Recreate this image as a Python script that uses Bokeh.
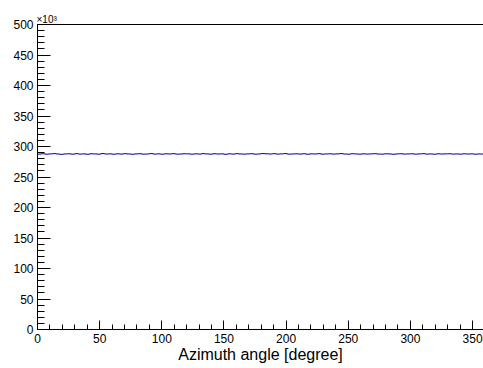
from bokeh.plotting import figure
from bokeh.models import FixedTicker, LinearAxis, Range1d, Title
from bokeh.embed import file_html
from bokeh.resources import INLINE

# Histogram: azimuth angle bins (3 degree wide), counts in units of 10^3
bin_width = 3.0
counts_k = [
    287.6, 288.1, 287.4, 287.9, 288.3, 287.7, 287.2, 287.8, 288.0, 287.5,
    288.2, 287.6, 287.9, 287.3, 288.1, 287.8, 287.5, 288.4, 287.7, 287.9,
    287.4, 288.0, 287.6, 288.2, 287.8, 287.3, 287.9, 288.1, 287.5, 287.7,
    288.3, 287.6, 287.9, 287.4, 288.0, 287.8, 288.2, 287.5, 287.7, 288.1,
    287.9, 287.4, 288.0, 287.6, 288.3, 287.8, 287.5, 288.1, 287.7, 287.9,
    287.3, 288.0, 287.6, 288.2, 287.8, 287.5, 287.9, 288.1, 287.4, 287.8,
    288.4, 288.0, 287.7, 288.2, 287.6, 287.9, 288.3, 287.5, 287.8, 288.0,
    287.6, 288.1, 287.4, 287.9, 287.7, 288.2, 287.5, 287.8, 288.0, 287.6,
    287.9, 288.3, 287.7, 287.5, 288.1, 287.8, 287.4, 288.0, 287.6, 287.9,
    288.2, 287.7, 287.5, 288.0, 287.8, 287.3, 287.9, 288.1, 287.6, 287.8,
    288.0, 287.5, 287.9, 288.2, 287.6, 287.8, 287.4, 288.0, 287.7, 287.9,
    288.1, 287.6, 287.8, 287.5, 288.0, 287.7, 287.9, 287.4, 287.8, 287.6,
]
x_ticks = [0, 50, 100, 150, 200, 250, 300, 350]
x_minor = list(range(0, 361, 10))
y_ticks = [0, 50, 100, 150, 200, 250, 300, 350, 400, 450, 500]
y_minor = list(range(0, 501, 10))
x_title = "Azimuth angle [degree]"
y_multiplier = "\u00d710\u00b3"

edges = [i * bin_width for i in range(len(counts_k) + 1)]
step_y = counts_k + [counts_k[-1]]

FONT = "Liberation Sans"

p = figure(width=483, height=368, output_backend="svg", toolbar_location=None,
           x_range=Range1d(0, 358.8), y_range=Range1d(0, 500),
           min_border_left=37, min_border_right=0, min_border_top=24,
           min_border_bottom=39)
p.background_fill_color = "white"
p.border_fill_color = "white"
p.outline_line_color = None
p.xgrid.visible = False
p.ygrid.visible = False

p.step(edges, step_y, mode="after", line_color="#000099", line_width=1)

for ax, ticks, minor, tin, mtin in ((p.xaxis[0], x_ticks, x_minor, 9, 5),
                                    (p.yaxis[0], y_ticks, y_minor, 13, 7)):
    ax.ticker = FixedTicker(ticks=ticks, minor_ticks=minor)
    ax.axis_line_color = "black"
    ax.axis_line_width = 1
    ax.major_tick_in = tin
    ax.major_tick_out = 0
    ax.minor_tick_in = mtin
    ax.minor_tick_out = 0
    ax.major_tick_line_color = "black"
    ax.minor_tick_line_color = "black"
    ax.major_label_text_font = FONT
    ax.major_label_text_font_size = "12px"
    ax.major_label_text_color = "black"
    ax.major_label_standoff = 4

p.xaxis[0].axis_label = x_title
p.xaxis[0].axis_label_text_font = FONT
p.xaxis[0].axis_label_text_font_size = "16px"
p.xaxis[0].axis_label_text_font_style = "normal"
p.xaxis[0].axis_label_text_color = "black"
p.xaxis[0].axis_label_standoff = 0

# top frame line
top = LinearAxis(ticker=FixedTicker(ticks=[]), axis_line_color="black",
                 major_tick_in=0, major_tick_out=0, minor_tick_in=0,
                 minor_tick_out=0, major_label_text_font_size="0px",
                 major_label_standoff=0)
p.add_layout(top, "above")

p.add_layout(Title(text=y_multiplier, align="left", offset=-1, standoff=0,
                   text_font=FONT, text_font_size="10px",
                   text_font_style="normal", text_color="black"), "above")

open("out.html", "w").write(file_html(p, INLINE))
